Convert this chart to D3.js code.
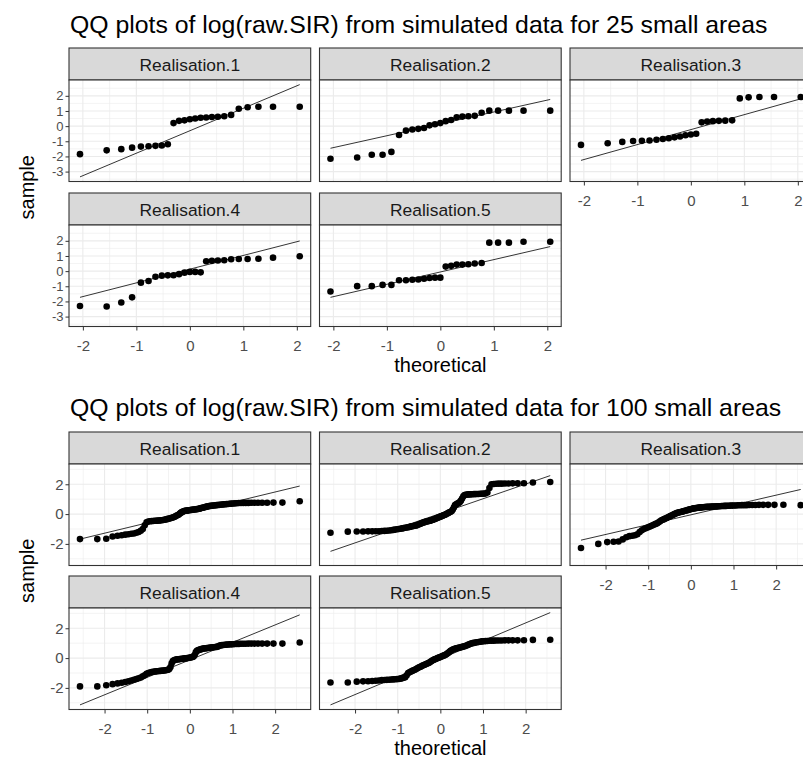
<!DOCTYPE html>
<html>
<head>
<meta charset="utf-8">
<script src="https://cdn.jsdelivr.net/npm/d3@7"></script>
<style>
  body { margin: 0; background: #fff; }
  text { font-family: "Liberation Sans", Arial, sans-serif; }
</style>
</head>
<body>
<div id="chart"></div>
<script>
// facet labels and titles
const realisations = ["Realisation.1", "Realisation.2", "Realisation.3", "Realisation.4", "Realisation.5"]
const titles = ["QQ plots of log(raw.SIR) from simulated data for 25 small areas",
                "QQ plots of log(raw.SIR) from simulated data for 100 small areas"]

// tick values
const xTicks = [-2, -1, 0, 1, 2]
const xMinor = [-2.5, -1.5, -0.5, 0.5, 1.5, 2.5]
const yTicks25 = [-3, -2, -1, 0, 1, 2]
const yMinor25 = [-3.5, -2.5, -1.5, -0.5, 0.5, 1.5, 2.5]
const yTicks100 = [-2, 0, 2]
const yMinor100 = [-3, -1, 1, 3]

// theoretical quantiles (x)
const theo25 = [-2.054, -1.555, -1.282, -1.080, -0.915, -0.772, -0.643, -0.524, -0.412, -0.305, -0.202, -0.100, 0,
  0.100, 0.202, 0.305, 0.412, 0.524, 0.643, 0.772, 0.915, 1.080, 1.282, 1.555, 2.054]
const theo100 = [-2.576, -2.170, -1.960, -1.812, -1.695, -1.598, -1.514, -1.440, -1.372, -1.311,
  -1.254, -1.200, -1.150, -1.103, -1.058, -1.015, -0.974, -0.935, -0.896, -0.860,
  -0.824, -0.789, -0.755, -0.722, -0.690, -0.659, -0.628, -0.598, -0.568, -0.539,
  -0.510, -0.482, -0.454, -0.426, -0.399, -0.372, -0.345, -0.319, -0.292, -0.266,
  -0.240, -0.215, -0.189, -0.164, -0.138, -0.113, -0.088, -0.063, -0.038, -0.013,
  0.013, 0.038, 0.063, 0.088, 0.113, 0.138, 0.164, 0.189, 0.215, 0.240,
  0.266, 0.292, 0.319, 0.345, 0.372, 0.399, 0.426, 0.454, 0.482, 0.510,
  0.539, 0.568, 0.598, 0.628, 0.659, 0.690, 0.722, 0.755, 0.789, 0.824,
  0.860, 0.896, 0.935, 0.974, 1.015, 1.058, 1.103, 1.150, 1.200, 1.254,
  1.311, 1.372, 1.440, 1.514, 1.598, 1.695, 1.812, 1.960, 2.170, 2.576]

// sample quantiles, 25 areas
const s25_r1 = [-1.85, -1.6, -1.52, -1.42, -1.35, -1.33, -1.3, -1.28, -1.2, 0.2, 0.35, 0.38, 0.45,
  0.5, 0.55, 0.57, 0.6, 0.62, 0.65, 0.74, 1.15, 1.25, 1.28, 1.28, 1.28]
const s25_r2 = [-2.15, -2.07, -1.89, -1.89, -1.7, -0.59, -0.3, -0.22, -0.18, -0.12, 0.05, 0.12, 0.2,
  0.33, 0.4, 0.58, 0.63, 0.65, 0.68, 0.88, 1.02, 1.02, 1.02, 1.02, 1.02]
const s25_r3 = [-1.24, -1.13, -1.04, -0.98, -0.97, -0.95, -0.9, -0.85, -0.8, -0.74, -0.68, -0.6, -0.55,
  -0.5, 0.25, 0.3, 0.33, 0.35, 0.36, 0.38, 1.83, 1.9, 1.92, 1.92, 1.92]
const s25_r4 = [-2.3, -2.33, -2.07, -1.73, -0.76, -0.65, -0.37, -0.3, -0.28, -0.27, -0.2, -0.1, -0.05,
  -0.05, -0.08, 0.65, 0.68, 0.7, 0.72, 0.78, 0.8, 0.8, 0.82, 0.89, 0.98]
const s25_r5 = [-1.34, -0.99, -0.99, -0.91, -0.91, -0.6, -0.6, -0.57, -0.55, -0.5, -0.45, -0.43, -0.43,
  0.3, 0.35, 0.43, 0.43, 0.45, 0.5, 0.54, 1.88, 1.88, 1.88, 1.94, 1.94]

// sample quantiles, 100 areas
const s100_r1 = [-1.68, -1.68, -1.66, -1.5, -1.45, -1.42, -1.38, -1.35, -1.32, -1.3,
  -1.25, -1.2, -1.12, -1.0, -0.75, -0.55, -0.5, -0.48, -0.47, -0.46,
  -0.45, -0.45, -0.44, -0.43, -0.42, -0.41, -0.4, -0.38, -0.36, -0.34,
  -0.32, -0.3, -0.28, -0.25, -0.23, -0.2, -0.16, -0.12, -0.08, -0.04,
  0.02, 0.08, 0.13, 0.17, 0.2, 0.22, 0.23, 0.24, 0.25, 0.26,
  0.27, 0.28, 0.29, 0.3, 0.31, 0.32, 0.33, 0.34, 0.36, 0.38,
  0.4, 0.42, 0.44, 0.46, 0.48, 0.5, 0.52, 0.54, 0.55, 0.56,
  0.57, 0.58, 0.59, 0.6, 0.61, 0.62, 0.63, 0.64, 0.65, 0.66,
  0.67, 0.68, 0.69, 0.7, 0.71, 0.72, 0.73, 0.74, 0.74, 0.75,
  0.75, 0.75, 0.76, 0.76, 0.76, 0.76, 0.76, 0.77, 0.77, 0.86]
const s100_r2 = [-1.25, -1.18, -1.17, -1.17, -1.16, -1.16, -1.15, -1.15, -1.14, -1.13,
  -1.12, -1.1, -1.08, -1.06, -1.04, -1.02, -1.0, -0.98, -0.96, -0.94,
  -0.92, -0.9, -0.88, -0.86, -0.84, -0.82, -0.8, -0.78, -0.76, -0.74,
  -0.7, -0.67, -0.64, -0.6, -0.57, -0.54, -0.52, -0.5, -0.48, -0.46,
  -0.44, -0.42, -0.4, -0.37, -0.34, -0.31, -0.28, -0.25, -0.22, -0.19,
  -0.16, -0.13, -0.1, -0.07, -0.04, 0.0, 0.04, 0.08, 0.12, 0.16,
  0.2, 0.3, 0.45, 0.6, 0.66, 0.7, 0.74, 0.8, 0.9, 1.05,
  1.2, 1.28, 1.3, 1.31, 1.32, 1.32, 1.33, 1.33, 1.34, 1.34,
  1.35, 1.35, 1.36, 1.36, 1.37, 1.38, 1.45, 1.75, 2.0, 2.02,
  2.03, 2.04, 2.04, 2.05, 2.05, 2.06, 2.06, 2.07, 2.12, 2.15]
const s100_r3 = [-2.28, -2.0, -1.88, -1.86, -1.84, -1.7, -1.55, -1.48, -1.45, -1.42,
  -1.35, -1.2, -1.08, -1.0, -0.95, -0.9, -0.85, -0.8, -0.75, -0.7,
  -0.66, -0.62, -0.55, -0.48, -0.42, -0.38, -0.34, -0.3, -0.26, -0.22,
  -0.18, -0.14, -0.1, -0.06, -0.02, 0.02, 0.05, 0.08, 0.1, 0.12,
  0.14, 0.16, 0.18, 0.2, 0.22, 0.24, 0.26, 0.28, 0.3, 0.32,
  0.34, 0.36, 0.38, 0.39, 0.4, 0.41, 0.42, 0.43, 0.44, 0.45,
  0.46, 0.46, 0.47, 0.47, 0.48, 0.48, 0.49, 0.49, 0.5, 0.5,
  0.51, 0.51, 0.52, 0.52, 0.53, 0.53, 0.54, 0.54, 0.55, 0.55,
  0.56, 0.56, 0.57, 0.57, 0.58, 0.58, 0.59, 0.59, 0.6, 0.6,
  0.6, 0.61, 0.61, 0.61, 0.62, 0.62, 0.62, 0.62, 0.63, 0.6]
const s100_r4 = [-1.9, -1.9, -1.82, -1.75, -1.7, -1.65, -1.6, -1.55, -1.5, -1.45,
  -1.4, -1.35, -1.3, -1.22, -1.15, -1.05, -1.0, -0.97, -0.94, -0.92,
  -0.9, -0.89, -0.88, -0.87, -0.86, -0.85, -0.84, -0.83, -0.82, -0.8,
  -0.78, -0.74, -0.6, -0.35, -0.2, -0.15, -0.12, -0.1, -0.09, -0.08,
  -0.07, -0.06, -0.05, -0.04, -0.03, -0.02, -0.01, 0.0, 0.01, 0.02,
  0.04, 0.06, 0.08, 0.1, 0.2, 0.38, 0.48, 0.52, 0.55, 0.58,
  0.6, 0.62, 0.64, 0.65, 0.66, 0.67, 0.68, 0.69, 0.7, 0.71,
  0.72, 0.73, 0.74, 0.75, 0.78, 0.82, 0.85, 0.87, 0.88, 0.89,
  0.9, 0.91, 0.92, 0.92, 0.93, 0.94, 0.95, 0.95, 0.96, 0.96,
  0.96, 0.97, 0.97, 0.97, 0.97, 0.97, 0.97, 0.97, 0.97, 1.05]
const s100_r5 = [-1.64, -1.64, -1.58, -1.56, -1.55, -1.54, -1.52, -1.5, -1.48, -1.47,
  -1.46, -1.45, -1.44, -1.43, -1.42, -1.41, -1.4, -1.38, -1.35, -1.32,
  -1.28, -1.15, -1.0, -0.95, -0.9, -0.86, -0.82, -0.78, -0.73, -0.68,
  -0.64, -0.6, -0.56, -0.52, -0.48, -0.45, -0.42, -0.38, -0.35, -0.31,
  -0.27, -0.22, -0.17, -0.13, -0.09, -0.06, -0.03, 0.0, 0.03, 0.06,
  0.09, 0.12, 0.15, 0.18, 0.21, 0.25, 0.3, 0.36, 0.42, 0.48,
  0.53, 0.57, 0.6, 0.63, 0.65, 0.67, 0.69, 0.71, 0.73, 0.75,
  0.77, 0.79, 0.82, 0.86, 0.9, 0.94, 0.97, 1.0, 1.02, 1.04,
  1.06, 1.08, 1.1, 1.12, 1.13, 1.14, 1.15, 1.16, 1.17, 1.17,
  1.18, 1.18, 1.18, 1.19, 1.19, 1.19, 1.19, 1.2, 1.22, 1.23]

// qq reference line: sample value at the lowest and highest theoretical quantile
const line25 = [[-3.35, 2.74], [-1.46, 1.76], [-2.26, 1.8], [-1.73, 1.99], [-1.73, 1.62]]
const line100 = [[-1.68, 1.88], [-2.5, 2.58], [-1.75, 1.65], [-3.14, 2.9], [-3.14, 3.05]]

const W = 803, H = 759
const panelLeft = 69, panelW = 241.7, gapX = 8.8
const stripH = 32, panelH = 101.5

const svg = d3.select("#chart")
    .append("svg")
    .attr("width", W)
    .attr("height", H)

function expand(ext) {
    const d = (ext[1] - ext[0]) * 0.05
    return [ext[0] - d, ext[1] + d]
}

function drawFacets(opt) {
    const xDom = expand(d3.extent(opt.theo))
    const allY = opt.samples.flat().concat(opt.lines.flat())
    const yDom = expand(d3.extent(allY))

    const x = d3.scaleLinear().domain(xDom).range([0, panelW])
    const y = d3.scaleLinear().domain(yDom).range([panelH, 0])

    svg.append("text")
        .attr("x", panelLeft + 1)
        .attr("y", opt.titleY)
        .attr("font-size", 24.8)
        .attr("fill", "#000")
        .text(opt.title)

    opt.samples.forEach((vals, i) => {
        const col = i % 3, row = Math.floor(i / 3)
        const px = panelLeft + col * (panelW + gapX)
        const sy = opt.stripTop + row * opt.rowStep
        const py = sy + stripH

        // strip
        const strip = svg.append("g").attr("transform", `translate(${px}, ${sy})`)
        strip.append("rect")
            .attr("width", panelW).attr("height", stripH)
            .attr("fill", "#D9D9D9").attr("stroke", "#333").attr("stroke-width", 1.1)
        strip.append("text")
            .attr("x", panelW / 2).attr("y", stripH / 2 + 1)
            .attr("text-anchor", "middle").attr("dominant-baseline", "central")
            .attr("font-size", 17.4).attr("fill", "#1A1A1A")
            .text(realisations[i])

        const g = svg.append("g").attr("transform", `translate(${px}, ${py})`)
        g.append("rect").attr("width", panelW).attr("height", panelH).attr("fill", "#fff")

        // grid
        const minorX = xMinor.filter(v => v > xDom[0] && v < xDom[1])
        const minorY = opt.yMinor.filter(v => v > yDom[0] && v < yDom[1])
        g.selectAll(".gxm").data(minorX).enter().append("line")
            .attr("x1", d => x(d)).attr("x2", d => x(d)).attr("y1", 0).attr("y2", panelH)
            .attr("stroke", "#EBEBEB").attr("stroke-width", 0.6)
        g.selectAll(".gym").data(minorY).enter().append("line")
            .attr("y1", d => y(d)).attr("y2", d => y(d)).attr("x1", 0).attr("x2", panelW)
            .attr("stroke", "#EBEBEB").attr("stroke-width", 0.6)
        g.selectAll(".gx").data(xTicks).enter().append("line")
            .attr("x1", d => x(d)).attr("x2", d => x(d)).attr("y1", 0).attr("y2", panelH)
            .attr("stroke", "#EBEBEB").attr("stroke-width", 1.1)
        g.selectAll(".gy").data(opt.yTicks).enter().append("line")
            .attr("y1", d => y(d)).attr("y2", d => y(d)).attr("x1", 0).attr("x2", panelW)
            .attr("stroke", "#EBEBEB").attr("stroke-width", 1.1)

        // qq line
        const lx = d3.extent(opt.theo)
        g.append("line")
            .attr("x1", x(lx[0])).attr("y1", y(opt.lines[i][0]))
            .attr("x2", x(lx[1])).attr("y2", y(opt.lines[i][1]))
            .attr("stroke", "#000").attr("stroke-width", 0.8)

        // points
        g.selectAll("circle")
            .data(vals.map((v, j) => ({ t: opt.theo[j], s: v })))
            .enter().append("circle")
            .attr("cx", d => x(d.t))
            .attr("cy", d => y(d.s))
            .attr("r", 3.3)
            .attr("fill", "#000")

        g.append("rect").attr("width", panelW).attr("height", panelH)
            .attr("fill", "none").attr("stroke", "#333").attr("stroke-width", 1.1)

        // y axis on first column
        if (col === 0) {
            const ya = g.append("g")
                .call(d3.axisLeft(y).tickValues(opt.yTicks).tickSize(3.5).tickPadding(2).tickFormat(d => d))
            ya.select(".domain").remove()
            ya.selectAll("line").attr("stroke", "#333")
            ya.selectAll("text").attr("fill", "#4D4D4D").attr("font-size", opt.yFont)
                .attr("font-family", "Liberation Sans, Arial, sans-serif")
        }
        // x axis where no panel below
        if (row === 1 || col === 2) {
            const xa = g.append("g")
                .attr("transform", `translate(0, ${panelH})`)
                .call(d3.axisBottom(x).tickValues(xTicks).tickSize(4).tickPadding(9.5).tickFormat(d => d))
            xa.select(".domain").remove()
            xa.selectAll("line").attr("stroke", "#333")
            xa.selectAll("text").attr("fill", "#4D4D4D").attr("font-size", 15)
                .attr("font-family", "Liberation Sans, Arial, sans-serif")
        }
    })

    const bottom = opt.stripTop + opt.rowStep + stripH + panelH
    svg.append("text")
        .attr("transform", `translate(34, ${(opt.stripTop + bottom) / 2}) rotate(-90)`)
        .attr("text-anchor", "middle")
        .attr("font-size", 20)
        .text("sample")

    svg.append("text")
        .attr("x", panelLeft + (3 * panelW + 2 * gapX) / 2)
        .attr("y", opt.xlabY)
        .attr("text-anchor", "middle")
        .attr("font-size", 20)
        .text("theoretical")
}

drawFacets({
    title: titles[0], titleY: 33, stripTop: 48, rowStep: 145, xlabY: 372,
    theo: theo25, samples: [s25_r1, s25_r2, s25_r3, s25_r4, s25_r5], lines: line25,
    yTicks: yTicks25, yMinor: yMinor25, yFont: 13
})

drawFacets({
    title: titles[1], titleY: 416, stripTop: 432, rowStep: 144, xlabY: 755,
    theo: theo100, samples: [s100_r1, s100_r2, s100_r3, s100_r4, s100_r5], lines: line100,
    yTicks: yTicks100, yMinor: yMinor100, yFont: 15
})
</script>
</body>
</html>
